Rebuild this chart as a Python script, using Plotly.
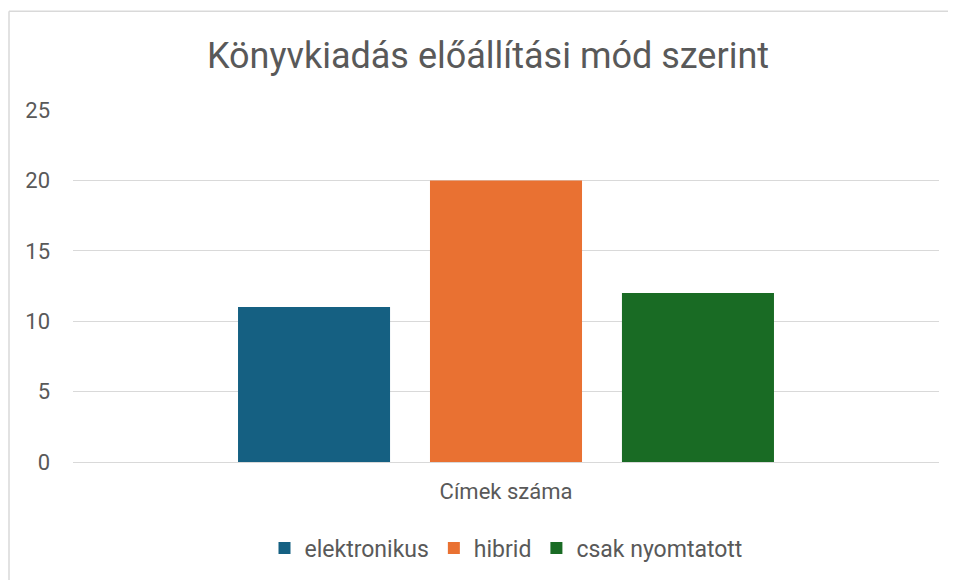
import plotly.graph_objects as go

categories = ["Címek száma"]
series_names = ["elektronikus", "hibrid", "csak nyomtatott"]
series_values = [[11], [20], [12]]
series_colors = ["#156082", "#E97132", "#196B24"]
y_ticks = [0, 5, 10, 15, 20, 25]

FONT = "Roboto, Arial, sans-serif"
TXT = "#595959"

W, H = 948, 572          # page adds an 8px body margin
L, R, T, B = 65, 17, 102, 117
PW, PH = W - L - R, H - T - B

fig = go.Figure()
for name, vals, col in zip(series_names, series_values, series_colors):
    fig.add_trace(go.Bar(x=categories, y=vals, name=name, marker=dict(color=col, line=dict(width=0))))

fig.update_layout(
    width=W, height=H,
    paper_bgcolor="white", plot_bgcolor="white",
    margin=dict(l=L, r=R, t=T, b=B),
    barmode="group", bargap=0.335, bargroupgap=0.208,
    font=dict(family=FONT, color=TXT, size=22),
    title=dict(text="Könyvkiadás előállítási mód szerint", x=480 / W, xanchor="center",
               y=1 - 47 / H, yanchor="middle", font=dict(size=36, color=TXT, family=FONT)),
    legend=dict(orientation="h", x=0.5, xanchor="center", y=(PH - (540 - T)) / PH, yanchor="middle",
                font=dict(size=23, color=TXT), itemwidth=30, traceorder="normal"),
    showlegend=True,
)
fig.update_yaxes(range=[0, 25], tickvals=y_ticks, showgrid=True, gridcolor="#d9d9d9", gridwidth=1.2,
                 zeroline=False, showline=False, tickfont=dict(size=22, color=TXT),
                 ticklabelstandoff=22)
fig.update_xaxes(showline=True, linecolor="#d9d9d9", linewidth=1.2, tickfont=dict(size=22, color=TXT),
                 ticks="outside", ticklen=9, tickcolor="rgba(0,0,0,0)")

# chart frame (top and left edges)
top = (PH + T - 3) / PH
left = (1 - L) / PW
fig.add_shape(type="line", xref="paper", yref="paper", x0=left, x1=(W + 5 - L) / PW,
              y0=top, y1=top, line=dict(color="#d9d9d9", width=1.5))
fig.add_shape(type="line", xref="paper", yref="paper", x0=left, x1=left,
              y0=top, y1=-(B + 10) / PH, line=dict(color="#d9d9d9", width=1.5))

fig.write_html("out.html")
